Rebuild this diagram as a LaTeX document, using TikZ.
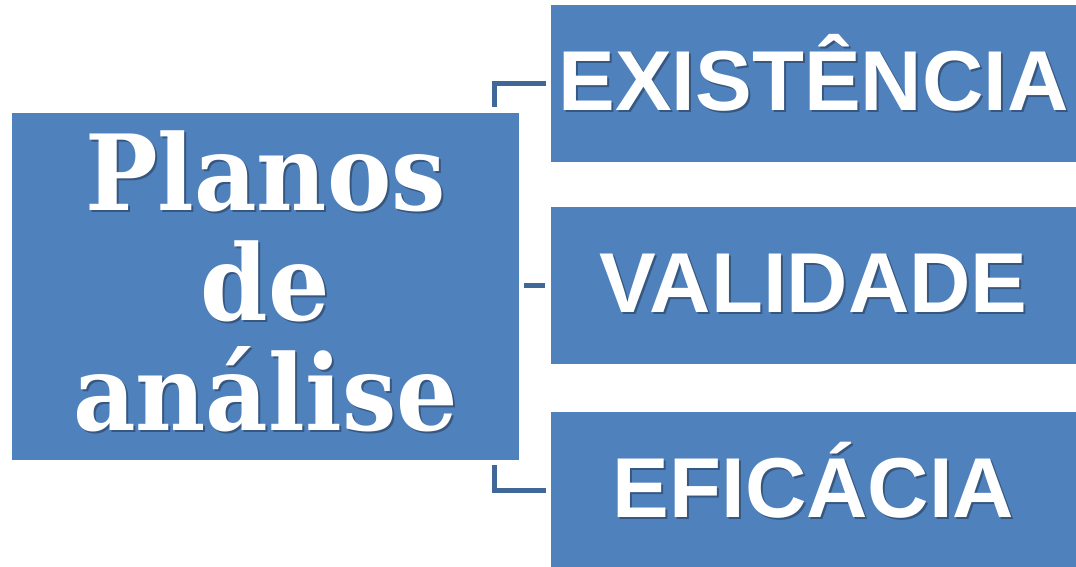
\documentclass[tikz,border=0pt]{standalone}
\usepackage{fontspec}
\usetikzlibrary{positioning}
\newfontfamily\planfont[FakeStretch=0.92]{DejaVu Serif}
\newfontfamily\itemfont{Liberation Sans}
\definecolor{boxblue}{HTML}{4F81BD}
\definecolor{lineblue}{HTML}{3F6898}
\definecolor{txtshadow}{HTML}{36577F}
\newcommand\shtext[1]{\rlap{\kern2pt\raisebox{-2pt}{\textcolor{txtshadow}{#1}}}#1}

\begin{document}
\begin{tikzpicture}[x=1pt,y=1pt,
    block/.style={fill=boxblue,draw=none,text=white,inner sep=0pt},
    item/.style={block,minimum width=525pt,minimum height=157pt,
        font=\itemfont\bfseries\fontsize{85}{85}\selectfont,text height=61pt,text depth=7pt},
    conn/.style={draw=lineblue,line width=5pt}]
    \useasboundingbox (0,0) rectangle (1076,566);
    \node[block,minimum width=507pt,minimum height=347pt,align=center,text depth=12pt,
        font=\planfont\bfseries\fontsize{105}{110}\selectfont](plan) at (265.5,279.5)
        {\shtext{Planos}\\\shtext{de}\\\shtext{análise}};
    \node[item](exist) at (813.5,482.5){\shtext{EXISTÊNCIA}};
    \node[item,below=45pt of exist](valid){\shtext{VALIDADE}};
    \node[item,below=47pt of valid](effic){\shtext{EFICÁCIA}};

    \draw[conn]([xshift=-24.5pt,yshift=6pt]plan.north east) |- ([xshift=-5pt]exist.west);
    \draw[conn]([xshift=5pt]plan.east |- valid.west) -- ([xshift=-6pt]valid.west);
    \draw[conn]([xshift=-24.5pt,yshift=-5pt]plan.south east) |- ([xshift=-5pt]effic.west);
\end{tikzpicture}
\end{document}
